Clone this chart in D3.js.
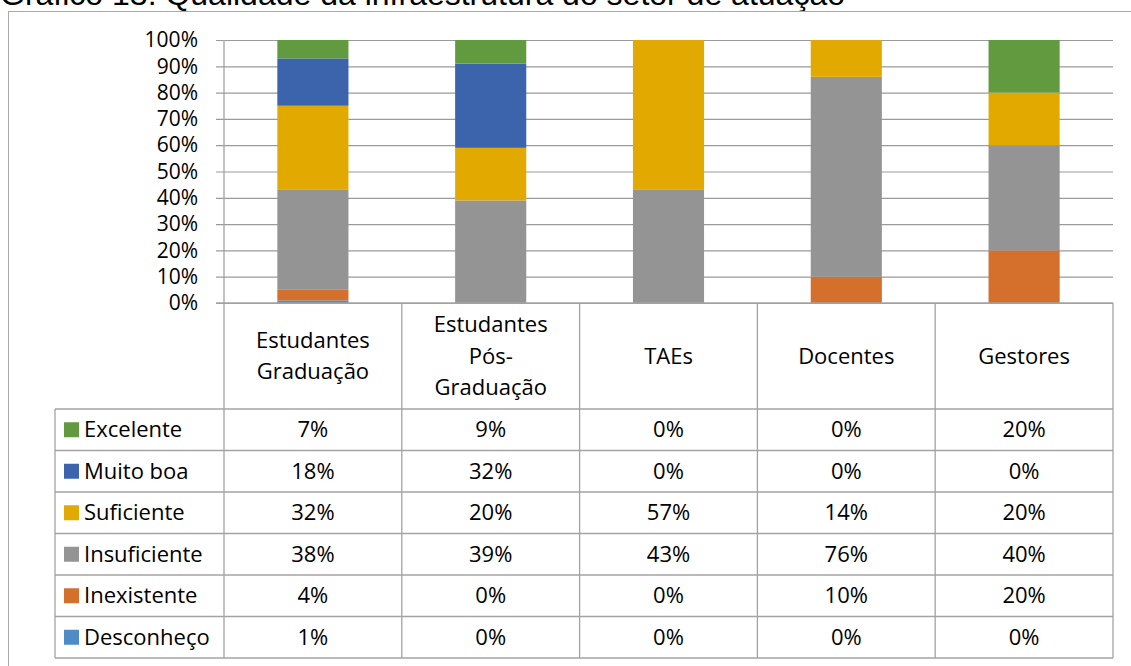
<!DOCTYPE html>
<html>
<head>
<meta charset="utf-8">
<script src="https://cdn.jsdelivr.net/npm/d3@7"></script>
<style>
  body { margin: 0; background: #fff; }
  svg { display: block; }
  text { font-family: "Open Sans", sans-serif; fill: #000; }
</style>
</head>
<body>
<div id="chart"></div>
<script>
// data (percent)
var categories = ["Estudantes Graduação", "Estudantes Pós-Graduação", "TAEs", "Docentes", "Gestores"];
var categoryLines = [["Estudantes", "Graduação"], ["Estudantes", "Pós-", "Graduação"], ["TAEs"], ["Docentes"], ["Gestores"]];
var seriesNames = ["Excelente", "Muito boa", "Suficiente", "Insuficiente", "Inexistente", "Desconheço"];
var excelente = [7, 9, 0, 0, 20];
var muitoBoa = [18, 32, 0, 0, 0];
var suficiente = [32, 20, 57, 14, 20];
var insuficiente = [38, 39, 43, 76, 40];
var inexistente = [4, 0, 0, 10, 20];
var desconheco = [1, 0, 0, 0, 0];
var yTicks = [0, 0.1, 0.2, 0.3, 0.4, 0.5, 0.6, 0.7, 0.8, 0.9, 1];
var colors = ["#629b3f", "#3b64ad", "#e2aa00", "#949494", "#d4702b", "#4f8cc6"];

var seriesValues = [excelente, muitoBoa, suficiente, insuficiente, inexistente, desconheco];

// one record per category, keyed by series name
var rows = categories.map(function(c, i) {
  var r = {category: c};
  seriesNames.forEach(function(s, j) { r[s] = seriesValues[j][i] / 100; });
  return r;
});

var width = 1131, height = 666;
var svg = d3.select("#chart").append("svg")
    .attr("width", width)
    .attr("height", height);

var lineColor = "#a3a3a3";
var fontSize = "22px";

// title (cut off at the top in the original)
svg.append("text")
    .attr("x", 0)
    .attr("y", 5)
    .style("font-family", "Arial, 'Liberation Sans', sans-serif")
    .style("font-size", "32px")
    .text("Gráfico 13: Qualidade da infraestrutura do setor de atuação");

// outer frame
svg.append("rect")
    .attr("x", 8.5).attr("y", 11.5)
    .attr("width", 1140).attr("height", 700)
    .attr("fill", "none")
    .attr("stroke", "#a8a8a8");

var plotLeft = 224, plotRight = 1113, plotTop = 40, plotBottom = 303;
var tableLeft = 55, headerBottom = 409, rowH = 41.5;

var x = d3.scaleBand()
    .domain(categories)
    .range([plotLeft, plotRight])
    .paddingInner(0.6)
    .paddingOuter(0.3);

var y = d3.scaleLinear().domain([0, 1]).range([plotBottom, plotTop]);

var color = d3.scaleOrdinal().domain(seriesNames).range(colors);

// gridlines + y labels
var yAxis = d3.axisLeft(y)
    .tickValues(yTicks)
    .tickFormat(d3.format(".0%"))
    .tickSize(-(plotRight - plotLeft + 8))
    .tickPadding(18);

var gy = svg.append("g")
    .attr("transform", "translate(" + (plotLeft - 8) + ",0)")
    .call(yAxis);
gy.select(".domain").remove();
gy.selectAll(".tick line").attr("stroke", "#9a9a9a").attr("stroke-width", 1.2);
gy.selectAll(".tick text")
    .style("font-family", "'Open Sans', sans-serif")
    .style("font-size", "21px")
    .attr("fill", "#000");

// stacked bars, bottom series first
var stack = d3.stack().keys(seriesNames.slice().reverse());
var layers = stack(rows);

svg.append("g").selectAll("g")
    .data(layers)
    .join("g")
    .attr("fill", function(d) { return color(d.key); })
  .selectAll("rect")
    .data(function(d) { return d; })
    .join("rect")
    .attr("x", function(d) { return x(d.data.category); })
    .attr("width", x.bandwidth())
    .attr("y", function(d) { return y(d[1]); })
    .attr("height", function(d) { return y(d[0]) - y(d[1]); });

// data table lines
var tableBottom = headerBottom + rowH * seriesNames.length;
var grid = svg.append("g")
    .attr("stroke", lineColor)
    .attr("stroke-width", 1.3);

// y axis line continues down through the table
grid.append("line")
    .attr("x1", plotLeft).attr("x2", plotLeft)
    .attr("y1", plotTop).attr("y2", tableBottom);

var colEdges = categories.map(function(c) { return x(c) - x.step() * x.paddingOuter() + x.step(); });
grid.selectAll(".col")
    .data(colEdges)
    .join("line")
    .attr("x1", function(d) { return d; }).attr("x2", function(d) { return d; })
    .attr("y1", plotBottom).attr("y2", tableBottom);

grid.append("line")
    .attr("x1", tableLeft).attr("x2", tableLeft)
    .attr("y1", headerBottom).attr("y2", tableBottom);

// axis baseline
grid.append("line")
    .attr("x1", plotLeft - 8).attr("x2", plotRight)
    .attr("y1", plotBottom).attr("y2", plotBottom);

grid.selectAll(".row")
    .data(d3.range(seriesNames.length + 1))
    .join("line")
    .attr("x1", tableLeft).attr("x2", plotRight)
    .attr("y1", function(i) { return headerBottom + i * rowH; })
    .attr("y2", function(i) { return headerBottom + i * rowH; });

// category header labels
var headerMid = (plotBottom + headerBottom) / 2;
var lineH = 31.5;
svg.append("g").selectAll("text")
    .data(categories)
    .join("text")
    .attr("text-anchor", "middle")
    .style("font-size", fontSize)
    .attr("x", function(d) { return x(d) + x.bandwidth() / 2; })
    .attr("y", headerMid)
    .each(function(d, i) {
      var lines = categoryLines[i];
      var t = d3.select(this);
      lines.forEach(function(l, k) {
        t.append("tspan")
            .attr("x", x(d) + x.bandwidth() / 2)
            .attr("y", headerMid + (k - (lines.length - 1) / 2) * lineH)
            .attr("dy", "0.35em")
            .text(l);
      });
    });

// table rows: legend key + values
var rowG = svg.append("g").selectAll("g")
    .data(seriesNames)
    .join("g")
    .attr("transform", function(d, i) { return "translate(0," + (headerBottom + i * rowH + rowH / 2) + ")"; });

rowG.append("rect")
    .attr("x", 64).attr("y", -7.5)
    .attr("width", 15).attr("height", 15)
    .attr("fill", function(d) { return color(d); });

rowG.append("text")
    .attr("x", 84)
    .attr("dy", "0.35em")
    .style("font-size", fontSize)
    .text(function(d) { return d; });

rowG.selectAll(".val")
    .data(function(d, i) { return seriesValues[i]; })
    .join("text")
    .attr("text-anchor", "middle")
    .attr("x", function(d, j) { return x(categories[j]) + x.bandwidth() / 2; })
    .attr("dy", "0.35em")
    .style("font-size", fontSize)
    .text(function(d) { return d + "%"; });
</script>
</body>
</html>
